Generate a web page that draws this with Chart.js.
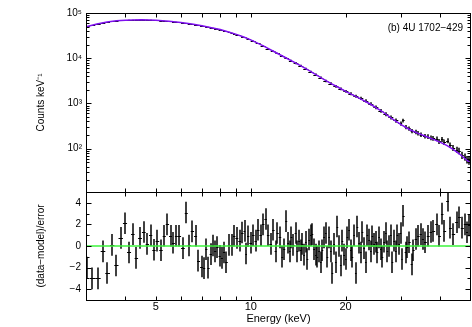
<!DOCTYPE html>
<html>
<head>
<meta charset="utf-8">
<script src="https://cdn.jsdelivr.net/npm/chart.js@4.4.0/dist/chart.umd.min.js"></script>
<style>
  html, body { margin: 0; padding: 0; background: #fff; }
</style>
</head>
<body>
<canvas id="myChart" width="472" height="327"></canvas>
<script>
// residual panel: bin energies (keV) and (data-model)/error
const resE = [3.03,3.14,3.28,3.40,3.51,3.64,3.74,3.87,3.99,4.11,4.23,4.33,4.45,4.58,4.70,4.81,4.93,5.05,5.20,5.31,
  5.44,5.57,5.68,5.81,5.92,6.10,6.25,6.37,6.53,6.69,6.82,6.99,7.11,7.23,7.34,7.47,7.59,7.71,7.84,7.97,8.09,8.23,8.37,8.54,8.71,8.85,9.03,9.23,9.41,9.56,
  9.66,9.80,10.0,10.19,10.37,10.55,10.76,10.94,11.16,11.35,11.57,11.80,12.01,12.15,12.39,12.60,12.76,12.97,13.14,13.30,
  13.46,13.66,13.90,14.06,14.24,14.41,14.58,14.77,14.95,15.13,15.32,15.51,15.69,15.89,16.09,16.27,16.48,16.68,16.88,17.09,
  17.30,17.51,17.73,17.95,18.16,18.39,18.62,18.84,19.07,19.31,19.54,19.78,20.03,20.27,20.52,20.78,21.02,21.28,21.55,21.80,
  22.08,22.35,22.62,22.90,23.18,23.46,23.75,24.05,24.33,24.63,24.94,25.24,25.55,25.87,26.18,26.50,26.84,27.15,27.49,27.83,
  28.16,28.51,28.87,29.21,29.58,29.95,
  30.16,30.52,31.06,31.42,31.89,32.45,32.83,33.42,34.06,34.66,35.17,35.77,36.64,37.29,38.01,38.96,39.71,40.59,41.19,42.22,
  42.94,43.99,45.10,45.86,46.98,47.92,48.52,49.34];
const resVal = [-2.0,-3.0,-3.0,-0.5,-2.5,0.1,-1.8,0.75,2.1,-0.6,1.1,-1.1,0.75,1.3,0.2,1.0,-0.35,0.5,-0.4,0.95,
  2.0,0.95,0.3,0.95,0.95,-0.2,3.1,0.05,1.35,0.95,-1.35,-1.9,-2.05,-0.3,-2.0,-0.75,0.05,-0.5,-0.1,-0.9,-1.1,-0.6,-1.5,0.1,0.1,0.95,0.75,0.5,1.25,1.4,
  -0.7,0.9,0.3,1.0,0.5,1.5,1.0,2.0,2.5,1.0,0.2,1.5,-0.5,1.2,0.8,-1.0,-0.3,2.3,0.3,-0.5,
  0.8,0.1,1.2,-0.5,0.5,-0.4,0.2,-0.8,0.4,-1.2,0.6,1.0,1.1,-0.3,-0.8,-1.0,-0.5,-1.5,-0.4,0.8,
  1.2,-1.0,0.8,-0.5,-2.5,0.2,-1.5,1.8,0.0,-1.8,0.5,-0.8,-1.2,0.8,1.5,-0.4,-1.0,1.0,-2.5,1.8,
  0.3,-0.6,1.3,-0.2,-1.5,1.0,0.6,-0.5,0.9,0.2,0.4,-0.6,0.8,-0.3,-1.0,0.4,1.2,-0.5,0.0,1.0,
  -1.5,0.5,-0.5,1.0,0.2,1.2,
  -1.2,2.8,-0.6,-0.1,0.35,-1.7,-0.4,0.65,0.95,1.1,0.65,0.35,0.95,1.3,1.4,2.0,0.95,3.0,1.4,4.2,
  1.7,1.1,2.2,2.65,1.7,2.0,1.27,1.9];

// spectrum panel: data points (counts keV^-1) with errors
const specE = [3.03,3.14,3.28,3.40,3.51,3.64,3.74,3.87,3.99,4.11,4.23,4.33,4.45,4.58,4.70,4.81,4.93,5.05,5.20,5.31,
  5.44,5.57,5.68,5.81,5.92,6.10,6.25,6.37,6.53,6.69,6.82,6.99,7.11,7.23,7.34,7.47,7.59,7.71,7.84,7.97,
  8.09,8.23,8.37,8.54,8.71,8.85,9.03,9.23,9.41,9.59,9.80,10.19,10.55,10.94,11.35,11.80,12.15,12.60,12.97,13.46,
  13.90,14.41,14.95,15.51,16.09,16.68,17.31,17.95,18.62,19.31,20.03,20.78,21.55,22.35,23.18,24.05,24.94,25.87,26.84,27.83,
  28.87,29.95,30.52,31.06,31.89,32.45,33.42,34.06,34.66,35.77,36.64,37.29,38.01,38.96,39.71,40.59,41.19,42.22,42.94,43.99,
  45.10,45.86,46.98,47.92,48.52,49.34];
const specCounts = [50500,54000,57500,61000,63000,65500,67000,68500,69500,70000,70500,70800,71000,71000,70500,70000,69200,68500,67500,66800,
  66000,65000,64200,63200,62300,60800,59500,58500,56800,55200,53800,52300,51000,50000,49000,47600,46500,45400,44200,43000,
  41800,40600,39300,37800,36200,35000,33400,31800,30200,28800,27000,24000,21200,18700,16300,14300,12800,11300,10100,8800,
  7800,6800,5800,5000,4300,3700,3150,2750,2400,2100,1850,1650,1450,1300,1150,980,820,690,580,490,
  420,360,420,300,280,245,235,220,205,190,185,175,170,165,145,160,140,150,120,105,
  95,90,72,66,58,55];
const specErr = [400,400,420,430,440,450,460,470,480,490,500,500,510,510,510,510,510,510,510,510,
  510,510,510,510,510,510,510,510,510,510,510,510,510,510,510,510,520,520,520,520,
  520,520,520,520,520,520,520,520,520,520,520,530,520,510,500,490,480,470,460,450,
  400,370,330,300,270,240,210,190,170,150,135,125,115,105,95,85,75,65,58,50,
  44,38,40,32,30,27,26,25,24,22,22,21,21,20,19,20,19,19,17,16,
  15,15,13,12,11,11];

// model curve
const modelE = [3.0,3.25,3.5,3.75,4.0,4.5,5.0,5.5,6.0,6.5,7.0,7.5,8.0,8.5,9.0,9.5,10,11,12,13,14,15,16,17,18,19,20,22,24,26,28,30,32,34,36,38,40,42,44,46,48,50];
const modelCounts = [49700,57000,63000,67000,69500,71000,69000,65500,61500,57000,52000,47300,43000,38000,33700,29500,25500,18500,13400,10000,
  7600,5800,4450,3450,2750,2250,1850,1330,960,680,470,340,262,218,186,160,138,117,95,76,59,47];

const xRange = [3, 50];
const xTicks = [4,5,6,7,8,9,10,20,30,40];
const xLabels = [5,10,20];
const specTicks = [100,1000,10000,100000];
const specLabels = {100:'10\u00b2', 1000:'10\u00b3', 10000:'10\u2074', 100000:'10\u2075'};
const resTicks = [-4,-2,0,2,4];

const FONT = 'Liberation Sans';

// bin edges from neighbouring energies (geometric midpoints)
function binEdges(es) {
  return es.map((e, i) => {
    const lo = i > 0 ? Math.sqrt(es[i-1] * e) : e * e / Math.sqrt(e * es[i+1]);
    const hi = i < es.length - 1 ? Math.sqrt(e * es[i+1]) : e * e / Math.sqrt(es[i-1] * e);
    return [lo, hi];
  });
}

function drawBars(chart, ds) {
  const ctx = chart.ctx, xs = chart.scales.x, ys = chart.scales[ds.yAxisID];
  ctx.save();
  ctx.beginPath();
  ctx.rect(chart.chartArea.left, ys.top, chart.chartArea.right - chart.chartArea.left, ys.bottom - ys.top);
  ctx.clip();
  ctx.strokeStyle = '#000';
  ds.data.forEach((p, i) => {
    const px = Math.round(xs.getPixelForValue(p.x));
    const py = Math.round(ys.getPixelForValue(p.y)) + 0.5;
    ctx.lineWidth = 1.5;
    ctx.beginPath();
    ctx.moveTo(px, ys.getPixelForValue(p.y - ds.errY[i]));
    ctx.lineTo(px, ys.getPixelForValue(p.y + ds.errY[i]));
    ctx.stroke();
    ctx.lineWidth = 1;
    ctx.beginPath();
    ctx.moveTo(xs.getPixelForValue(ds.edges[i][0]), py);
    ctx.lineTo(xs.getPixelForValue(ds.edges[i][1]), py);
    ctx.stroke();
  });
  ctx.restore();
}

// error bars go under the model curve and the zero line
const errorBars = {
  id: 'errorBars',
  beforeDatasetsDraw(chart) {
    chart.data.datasets.forEach(ds => { if (ds.errY) drawBars(chart, ds); });
  }
};

const frame = {
  id: 'frame',
  afterDraw(chart) {
    const ctx = chart.ctx, xs = chart.scales.x, a = chart.chartArea;
    const l = Math.round(a.left) + 0.5, r = Math.round(a.right) - 0.5;
    ctx.save();
    ctx.strokeStyle = '#000';
    ctx.lineWidth = 1;
    const panels = [
      {id: 'y', major: specTicks, minor: []},
      {id: 'y2', major: resTicks, minor: [-3,-1,1,3]}
    ];
    specTicks.forEach(d => {
      const base = d / 10;
      for (let k = 2; k <= 9; k++) if (base * k > 11) panels[0].minor.push(base * k);
    });
    panels.forEach(p => {
      const ys = chart.scales[p.id];
      const t = Math.round(ys.top) + 0.5, b = Math.round(ys.bottom) + 0.5;
      ctx.strokeRect(l, t, r - l, b - t);
      ctx.beginPath();
      xTicks.forEach(v => {
        const px = Math.round(xs.getPixelForValue(v)) + 0.5;
        ctx.moveTo(px, t); ctx.lineTo(px, t + 4);
        ctx.moveTo(px, b); ctx.lineTo(px, b - 4);
      });
      p.major.forEach(v => {
        const py = Math.round(ys.getPixelForValue(v)) + 0.5;
        ctx.moveTo(l, py); ctx.lineTo(l + 5, py);
        ctx.moveTo(r, py); ctx.lineTo(r - 5, py);
      });
      p.minor.forEach(v => {
        const py = Math.round(ys.getPixelForValue(v)) + 0.5;
        ctx.moveTo(l, py); ctx.lineTo(l + 3, py);
        ctx.moveTo(r, py); ctx.lineTo(r - 3, py);
      });
      ctx.stroke();
    });
    const ys = chart.scales.y;
    ctx.fillStyle = '#000';
    ctx.font = '10px ' + FONT;
    ctx.textAlign = 'right';
    ctx.textBaseline = 'alphabetic';
    ctx.fillText('(b) 4U 1702\u2212429', a.right - 8, ys.top + 18);
    ctx.restore();
  }
};

const ctx = document.getElementById('myChart').getContext('2d');
const myChart = new Chart(ctx, {
  type: 'scatter',
  data: {
    datasets: [
      {
        data: specE.map((e, i) => ({x: e, y: specCounts[i]})),
        errY: specErr,
        edges: binEdges(specE),
        yAxisID: 'y',
        pointRadius: 0,
        showLine: false
      },
      {
        data: modelE.map((e, i) => ({x: e, y: modelCounts[i]})),
        yAxisID: 'y',
        showLine: true,
        borderColor: '#7f10f0',
        borderWidth: 1.5,
        pointRadius: 0
      },
      {
        data: resE.map((e, i) => ({x: e, y: resVal[i]})),
        errY: resE.map(() => 1),
        edges: binEdges(resE),
        yAxisID: 'y2',
        pointRadius: 0,
        showLine: false
      },
      {
        data: [{x: xRange[0], y: 0}, {x: xRange[1], y: 0}],
        yAxisID: 'y2',
        showLine: true,
        borderColor: '#3cf53c',
        borderWidth: 1.5,
        pointRadius: 0
      }
    ]
  },
  options: {
    responsive: false,
    animation: false,
    devicePixelRatio: 1,
    layout: { padding: { top: 13, right: 1, left: 0, bottom: 0 } },
    plugins: { legend: { display: false }, tooltip: { enabled: false } },
    scales: {
      x: {
        type: 'logarithmic',
        min: xRange[0],
        max: xRange[1],
        position: 'bottom',
        afterBuildTicks: s => { s.ticks = xTicks.map(v => ({value: v})); },
        afterFit: s => { s.height = 27; },
        grid: { display: false, drawTicks: false },
        border: { display: false },
        ticks: {
          autoSkip: false, maxRotation: 0, padding: 0, color: '#000',
          font: { family: FONT, size: 11 },
          callback: v => xLabels.includes(v) ? String(v) : ''
        },
        title: {
          display: true, text: 'Energy (keV)', color: '#000',
          font: { family: FONT, size: 11 }, padding: { top: 0, bottom: 1 }
        }
      },
      y2: {
        type: 'linear',
        position: 'left',
        stack: 'panels',
        stackWeight: 108,
        min: -5,
        max: 5,
        afterBuildTicks: s => { s.ticks = resTicks.map(v => ({value: v})); },
        afterFit: s => { s.width = 86; },
        grid: { display: false, drawTicks: false },
        border: { display: false },
        ticks: {
          autoSkip: false, padding: 5, color: '#000', font: { family: FONT, size: 10 },
          callback: v => v < 0 ? '\u2212' + Math.abs(v) : String(v)
        },
        title: {
          display: true, text: '(data\u2212model)/error', color: '#000',
          font: { family: FONT, size: 10 }, padding: { top: 35, bottom: 0 }
        }
      },
      y: {
        type: 'logarithmic',
        position: 'left',
        stack: 'panels',
        stackWeight: 179,
        min: 11,
        max: 100000,
        afterBuildTicks: s => { s.ticks = specTicks.map(v => ({value: v})); },
        afterFit: s => { s.width = 86; },
        grid: { display: false, drawTicks: false },
        border: { display: false },
        ticks: {
          autoSkip: false, padding: 4, color: '#000', font: { family: FONT, size: 10 },
          callback: v => specLabels[v] || ''
        },
        title: {
          display: true, text: 'Counts keV\u207b\u00b9', color: '#000',
          font: { family: FONT, size: 10 }, padding: { top: 35, bottom: 0 }
        }
      }
    }
  },
  plugins: [errorBars, frame]
});
</script>
</body>
</html>
